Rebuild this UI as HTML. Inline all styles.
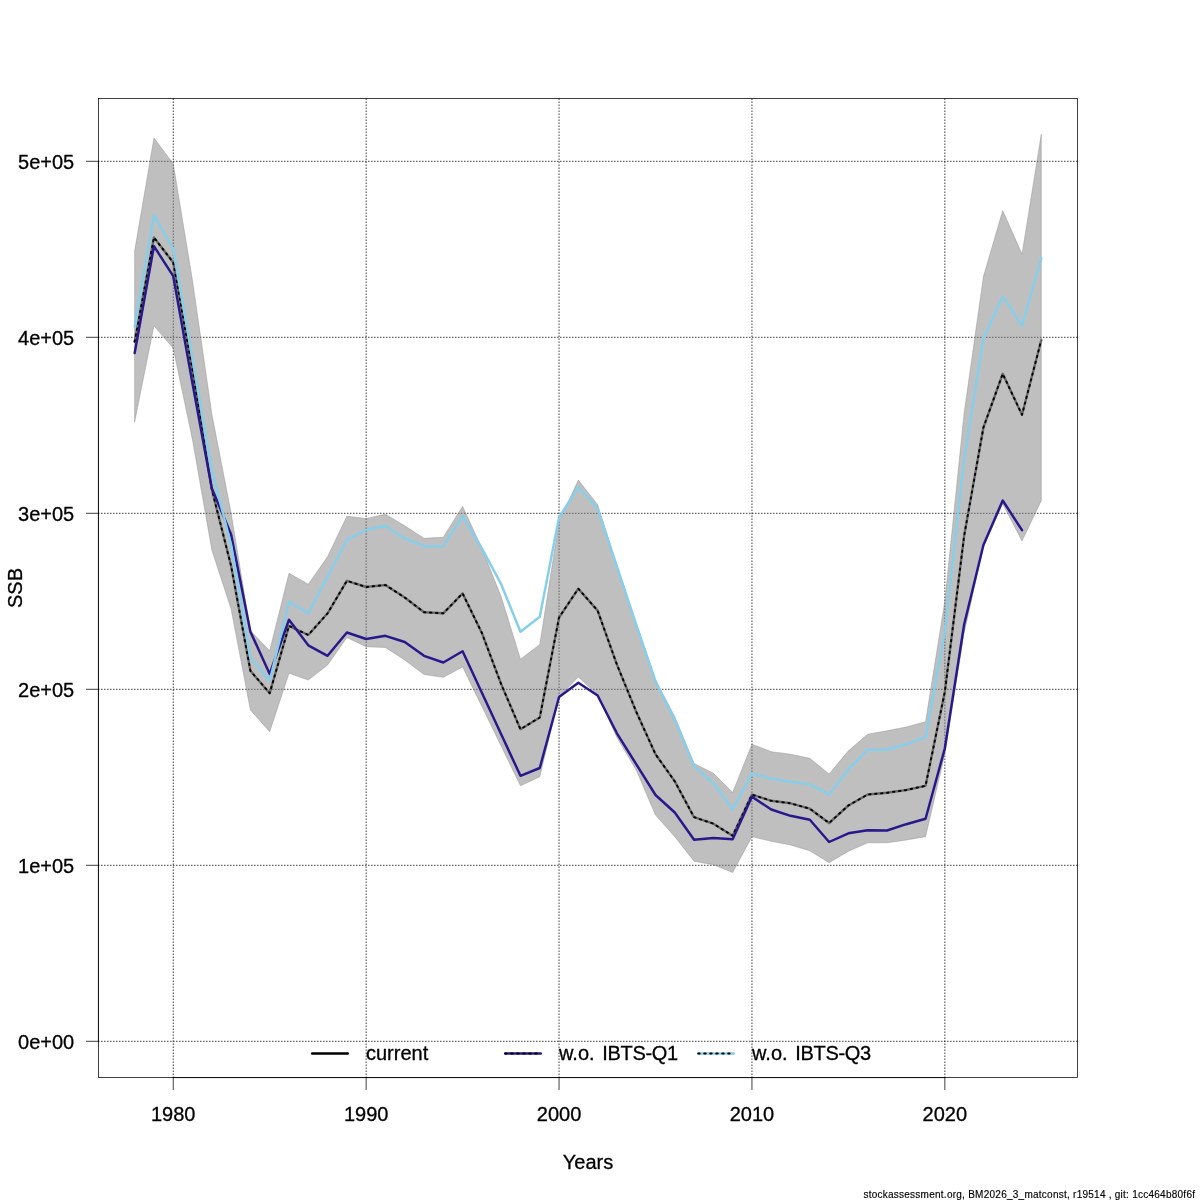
<!DOCTYPE html>
<html><head><meta charset="utf-8"><title>SSB</title>
<style>
html,body{margin:0;padding:0;background:#fff;}
svg{display:block;}
text{font-family:"Liberation Sans",sans-serif;font-size:20px;fill:#000;stroke:#000;stroke-width:0.3px;}
</style></head><body>
<svg width="1200" height="1200" viewBox="0 0 1200 1200">
<rect x="0" y="0" width="1200" height="1200" fill="#fff"/>
<g stroke="#000" stroke-width="0.75" fill="none" stroke-linecap="round">
<rect x="98.4" y="98.4" width="979.1999999999999" height="979.1999999999999"/>
<line x1="173.25" y1="1077.6" x2="173.25" y2="1089.6"/>
<line x1="366.15" y1="1077.6" x2="366.15" y2="1089.6"/>
<line x1="559.05" y1="1077.6" x2="559.05" y2="1089.6"/>
<line x1="751.95" y1="1077.6" x2="751.95" y2="1089.6"/>
<line x1="944.85" y1="1077.6" x2="944.85" y2="1089.6"/>
<line x1="98.4" y1="1041.30" x2="86.4" y2="1041.30"/>
<line x1="98.4" y1="865.30" x2="86.4" y2="865.30"/>
<line x1="98.4" y1="689.30" x2="86.4" y2="689.30"/>
<line x1="98.4" y1="513.30" x2="86.4" y2="513.30"/>
<line x1="98.4" y1="337.30" x2="86.4" y2="337.30"/>
<line x1="98.4" y1="161.30" x2="86.4" y2="161.30"/>
<line x1="173.25" y1="1077.6" x2="944.85" y2="1077.6"/>
<line x1="98.4" y1="1041.30" x2="98.4" y2="161.30"/>
</g>
<g stroke="#000" stroke-width="0.75" stroke-dasharray="0.75 2.25" fill="none" stroke-linecap="round">
<line x1="173.25" y1="1077.6" x2="173.25" y2="98.4"/>
<line x1="366.15" y1="1077.6" x2="366.15" y2="98.4"/>
<line x1="559.05" y1="1077.6" x2="559.05" y2="98.4"/>
<line x1="751.95" y1="1077.6" x2="751.95" y2="98.4"/>
<line x1="944.85" y1="1077.6" x2="944.85" y2="98.4"/>
<line x1="98.4" y1="1041.30" x2="1077.6" y2="1041.30"/>
<line x1="98.4" y1="865.30" x2="1077.6" y2="865.30"/>
<line x1="98.4" y1="689.30" x2="1077.6" y2="689.30"/>
<line x1="98.4" y1="513.30" x2="1077.6" y2="513.30"/>
<line x1="98.4" y1="337.30" x2="1077.6" y2="337.30"/>
<line x1="98.4" y1="161.30" x2="1077.6" y2="161.30"/>
</g>
<text x="173.25" y="1121" text-anchor="middle">1980</text>
<text x="366.15" y="1121" text-anchor="middle">1990</text>
<text x="559.05" y="1121" text-anchor="middle">2000</text>
<text x="751.95" y="1121" text-anchor="middle">2010</text>
<text x="944.85" y="1121" text-anchor="middle">2020</text>
<text x="74.2" y="1048.50" text-anchor="end">0e+00</text>
<text x="74.2" y="872.50" text-anchor="end">1e+05</text>
<text x="74.2" y="696.50" text-anchor="end">2e+05</text>
<text x="74.2" y="520.50" text-anchor="end">3e+05</text>
<text x="74.2" y="344.50" text-anchor="end">4e+05</text>
<text x="74.2" y="168.50" text-anchor="end">5e+05</text>
<text x="588" y="1168.7" text-anchor="middle">Years</text>
<text transform="translate(21.7,588) rotate(-90)" text-anchor="middle">SSB</text>
<g fill="none" stroke-linejoin="round" stroke-linecap="round">
<polygon points="134.67,250.80 153.96,138.00 173.25,163.70 192.54,281.00 211.83,414.00 231.12,513.00 250.41,630.80 269.70,650.80 288.99,573.30 308.28,584.20 327.57,556.70 346.86,516.30 366.15,518.50 385.44,514.20 404.73,525.80 424.02,538.30 443.31,537.20 462.60,506.30 481.89,548.30 501.18,596.70 520.47,659.20 539.76,644.60 559.05,521.70 578.34,480.00 597.63,504.70 616.92,566.00 636.21,624.00 655.50,680.00 674.79,716.70 694.08,763.50 713.37,773.30 732.66,792.50 751.95,744.20 771.24,751.70 790.53,754.20 809.82,758.30 829.11,774.00 848.40,750.80 867.69,734.20 886.98,730.80 906.27,727.00 925.56,721.70 944.85,601.00 964.14,413.00 983.43,276.60 1002.72,210.50 1022.01,254.20 1041.30,134.20 1041.30,500.50 1022.01,541.00 1002.72,504.00 983.43,547.00 964.14,633.00 944.85,754.00 925.56,836.70 906.27,840.00 886.98,842.80 867.69,842.80 848.40,851.30 829.11,862.70 809.82,850.80 790.53,845.00 771.24,841.30 751.95,836.70 732.66,872.50 713.37,864.70 694.08,861.30 674.79,836.70 655.50,815.00 636.21,770.00 616.92,737.50 597.63,695.00 578.34,677.00 559.05,697.00 539.76,776.70 520.47,785.80 501.18,746.10 481.89,706.40 462.60,667.00 443.31,677.30 424.02,674.50 404.73,660.00 385.44,647.50 366.15,646.70 346.86,637.50 327.57,665.00 308.28,680.00 288.99,673.30 269.70,731.70 250.41,710.00 231.12,609.00 211.83,550.00 192.54,440.00 173.25,348.30 153.96,325.80 134.67,421.70" fill="rgba(127,127,127,0.5)" stroke="rgba(127,127,127,0.5)" stroke-width="0.75"/>
<polyline points="134.67,341.70 153.96,237.50 173.25,262.50 192.54,370.60 211.83,489.50 231.12,566.00 250.41,670.80 269.70,693.20 288.99,625.80 308.28,635.00 327.57,613.30 346.86,580.80 366.15,587.00 385.44,585.00 404.73,597.50 424.02,612.20 443.31,613.30 462.60,593.40 481.89,633.00 501.18,684.20 520.47,729.20 539.76,717.50 559.05,617.50 578.34,588.70 597.63,610.60 616.92,664.60 636.21,711.70 655.50,754.20 674.79,781.40 694.08,817.20 713.37,823.70 732.66,835.80 751.95,794.60 771.24,800.80 790.53,803.30 809.82,808.70 829.11,823.00 848.40,805.50 867.69,794.50 886.98,792.80 906.27,790.00 925.56,785.80 944.85,691.70 964.14,535.80 983.43,427.50 1002.72,373.80 1022.01,414.80 1041.30,340.00" stroke="#6a6a6a" stroke-width="2.4"/>
<polyline points="134.67,341.70 153.96,237.50 173.25,262.50 192.54,370.60 211.83,489.50 231.12,566.00 250.41,670.80 269.70,693.20 288.99,625.80 308.28,635.00 327.57,613.30 346.86,580.80 366.15,587.00 385.44,585.00 404.73,597.50 424.02,612.20 443.31,613.30 462.60,593.40 481.89,633.00 501.18,684.20 520.47,729.20 539.76,717.50 559.05,617.50 578.34,588.70 597.63,610.60 616.92,664.60 636.21,711.70 655.50,754.20 674.79,781.40 694.08,817.20 713.37,823.70 732.66,835.80 751.95,794.60 771.24,800.80 790.53,803.30 809.82,808.70 829.11,823.00 848.40,805.50 867.69,794.50 886.98,792.80 906.27,790.00 925.56,785.80 944.85,691.70 964.14,535.80 983.43,427.50 1002.72,373.80 1022.01,414.80 1041.30,340.00" stroke="#000" stroke-width="1.9" stroke-dasharray="1.5 4.5"/>
<polyline points="134.67,353.00 153.96,246.20 173.25,276.20 192.54,383.70 211.83,488.30 231.12,534.50 250.41,631.70 269.70,674.00 288.99,619.70 308.28,645.30 327.57,655.80 346.86,632.50 366.15,639.00 385.44,635.80 404.73,642.00 424.02,655.80 443.31,662.50 462.60,651.30 481.89,692.80 501.18,734.30 520.47,775.80 539.76,768.00 559.05,697.00 578.34,682.70 597.63,695.50 616.92,733.30 636.21,764.20 655.50,795.00 674.79,812.50 694.08,839.70 713.37,838.00 732.66,839.20 751.95,796.70 771.24,809.50 790.53,815.80 809.82,819.80 829.11,842.00 848.40,833.30 867.69,830.30 886.98,830.50 906.27,824.20 925.56,818.70 944.85,748.30 964.14,624.50 983.43,545.00 1002.72,500.50 1022.01,530.20" stroke="#27188B" stroke-width="2.45"/>
<polyline points="134.67,326.70 153.96,215.30 173.25,249.20 192.54,359.00 211.83,470.00 231.12,545.00 250.41,657.50 269.70,680.70 288.99,601.70 308.28,613.30 327.57,576.70 346.86,539.70 366.15,530.00 385.44,525.80 404.73,538.70 424.02,546.20 443.31,546.20 462.60,516.00 481.89,548.30 501.18,584.20 520.47,631.70 539.76,616.80 559.05,517.50 578.34,487.00 597.63,508.70 616.92,566.50 636.21,624.70 655.50,681.20 674.79,719.60 694.08,766.20 713.37,783.50 732.66,809.60 751.95,773.10 771.24,778.80 790.53,781.70 809.82,784.40 829.11,794.70 848.40,769.20 867.69,749.70 886.98,749.70 906.27,744.20 925.56,737.00 944.85,631.00 964.14,459.00 983.43,338.50 1002.72,296.40 1022.01,325.50 1041.30,258.30" stroke="#87CEEB" stroke-width="2.45"/>
</g>
<g fill="none" stroke-linecap="round">
<line x1="312.2" y1="1053.5" x2="347.8" y2="1053.5" stroke="#000" stroke-width="2.45"/>
<line x1="505.2" y1="1053.5" x2="540.8" y2="1053.5" stroke="#27188B" stroke-width="2.45"/>
<line x1="698.2" y1="1053.5" x2="733.8" y2="1053.5" stroke="#87CEEB" stroke-width="2.45"/>
<line x1="505.2" y1="1053.5" x2="540.8" y2="1053.5" stroke="#000" stroke-width="1.9" stroke-dasharray="1.5 4.5"/>
<line x1="698.2" y1="1053.5" x2="733.8" y2="1053.5" stroke="#000" stroke-width="1.9" stroke-dasharray="1.5 4.5"/>
</g>
<text x="366" y="1060.4">current</text>
<text x="559" y="1060.4">w.o. <tspan dx="2.2" style="letter-spacing:-0.35px">IBTS-Q1</tspan></text>
<text x="752" y="1060.4">w.o. <tspan dx="2.2" style="letter-spacing:-0.35px">IBTS-Q3</tspan></text>
<text x="863.4" y="1197.7" textLength="331.6" lengthAdjust="spacing" style="font-size:10px;stroke-width:0.15px">stockassessment.org, BM2026_3_matconst, r19514 , git: 1cc464b80f6f</text>
</svg>
</body></html>
